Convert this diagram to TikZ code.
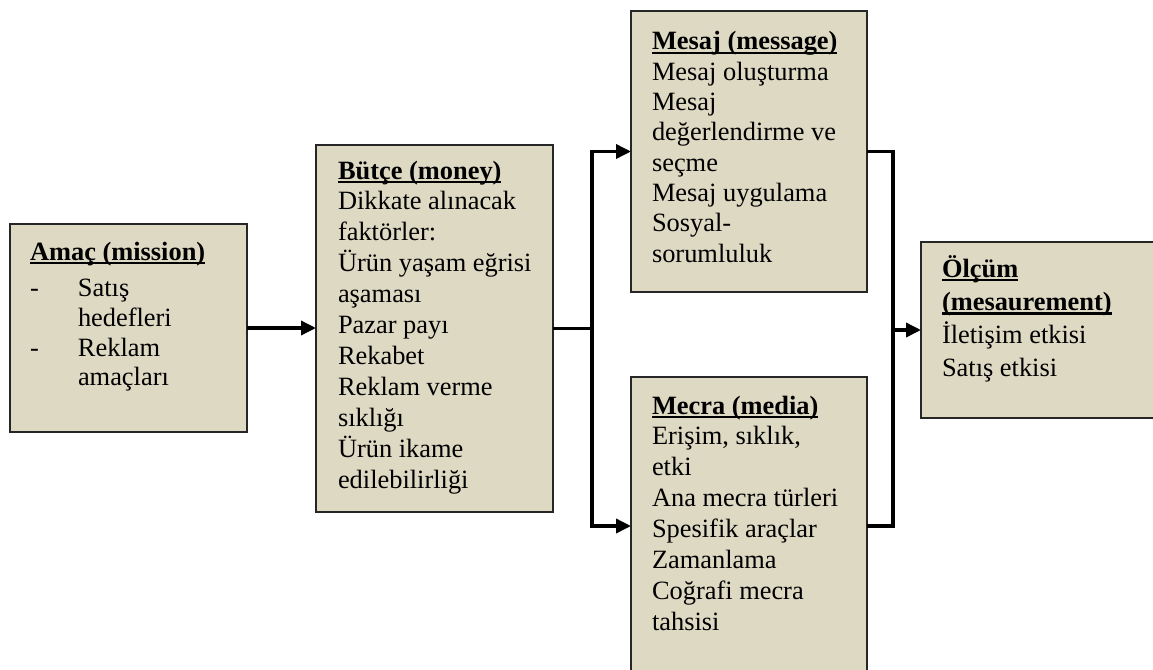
\documentclass[tikz,border=0pt]{standalone}
\usepackage{fontspec}
\setmainfont{Liberation Serif}
\usetikzlibrary{arrows.meta}
\definecolor{boxfill}{HTML}{DDD9C3}
% bold, underlined heading with a fixed-depth rule
\newcommand\heading[1]{\setbox0\hbox{\bfseries #1}\rlap{\rule[-4.2pt]{\wd0}{2.2pt}}\box0}
% left-aligned lines whose outer baseline is that of the first line
\newcommand\textstack[2]{\vtop{\baselineskip=#1\lineskiplimit=-100pt\lineskip=0pt\halign{##\hfil\cr#2\crcr}}}
% hanging list entries
\newcommand\dashitem[1]{\hbox to 48pt{-\hfil}#1}
\newcommand\contitem[1]{\hskip48pt #1}
\begin{document}
\begin{tikzpicture}[x=1pt,y=-1pt,
  panel/.style={draw=black!85, line width=1.6pt, fill=boxfill,
    inner sep=0pt, outer sep=0pt, anchor=north west},
  txt/.style={anchor=base west, inner sep=0pt, outer sep=0pt,
    font=\fontsize{26.4pt}{31pt}\selectfont},
  conn/.style={line width=3.5pt, draw=black, line join=miter},
  arrow/.style={conn, -{Triangle[length=15pt,width=14pt]}}]
\useasboundingbox (0,0) rectangle (1153,669);
\clip (0,0) rectangle (1153,669);

% boxes
\node[panel, minimum width=237pt, minimum height=208pt] (amac)  at (10,224)  {};
\node[panel, minimum width=237pt, minimum height=367pt] (butce) at (316,145) {};
\node[panel, minimum width=236pt, minimum height=281pt] (mesaj) at (631,11)  {};
\node[panel, minimum width=236pt, minimum height=298pt] (mecra) at (631,377) {};
\node[panel, minimum width=240pt, minimum height=176pt] (olcum) at (921,242) {};

% box texts
\node[txt] (amacT) at (30,260) {\textstack{29.7pt}{\heading{Amaç (mission)}\cr
  \noalign{\vskip7pt}
  \dashitem{Satış}\cr
  \contitem{hedefleri}\cr
  \dashitem{Reklam}\cr
  \contitem{amaçları}}};
\node[txt] (butceT) at (338,179) {\textstack{30.9pt}{\heading{Bütçe (money)}\cr
  Dikkate alınacak\cr
  faktörler:\cr
  Ürün yaşam eğrisi\cr
  aşaması\cr
  Pazar payı\cr
  Rekabet\cr
  Reklam verme\cr
  sıklığı\cr
  Ürün ikame\cr
  edilebilirliği}};
\node[txt] (mesajT) at (652,50) {\textstack{30.3pt}{\heading{Mesaj (message)}\cr
  Mesaj oluşturma\cr
  Mesaj\cr
  değerlendirme ve\cr
  seçme\cr
  Mesaj uygulama\cr
  Sosyal-\cr
  sorumluluk}};
\node[txt] (mecraT) at (652,414) {\textstack{30.9pt}{\heading{Mecra (media)}\cr
  Erişim, sıklık,\cr
  etki\cr
  Ana mecra türleri\cr
  Spesifik araçlar\cr
  Zamanlama\cr
  Coğrafi mecra\cr
  tahsisi}};
\node[txt] (olcumT) at (942,277) {\textstack{33.3pt}{\heading{Ölçüm}\cr
  \heading{(mesaurement)}\cr
  İletişim etkisi\cr
  Satış etkisi}};

% connectors
\coordinate (split) at (592,329);
\coordinate (merge) at (893,330);
\draw[arrow] (amac.east) -- (amac.east -| butce.west);
\draw[conn] (butce.east) -- (butce.east -| split);
\draw[arrow] (butce.east -| split) |- (mesaj.west);
\draw[arrow] (butce.east -| split) |- (mecra.west);
\draw[conn] (mesaj.east) -| (merge);
\draw[conn] (mecra.east) -| (merge);
\draw[arrow] (merge) -- (olcum.west);
\end{tikzpicture}
\end{document}
